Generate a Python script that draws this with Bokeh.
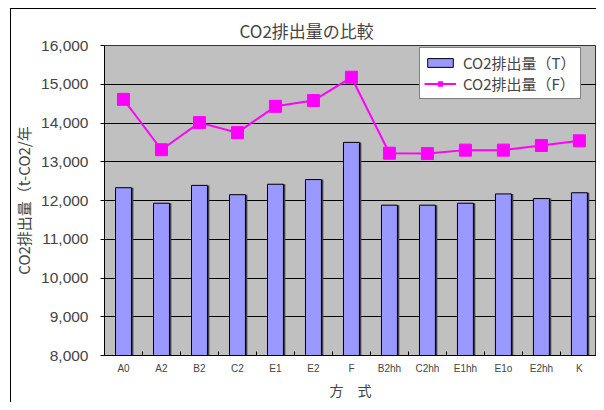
from bokeh.plotting import figure
from bokeh.models import (ColumnDataSource, Range1d, FixedTicker, NumeralTickFormatter,
                          Legend, LegendItem)
from bokeh.transform import dodge
from bokeh.embed import file_html
from bokeh.resources import INLINE

categories = ["A0", "A2", "B2", "C2", "E1", "E2", "F", "B2hh", "C2hh", "E1hh", "E1o", "E2hh", "K"]
co2_T = [12330, 11930, 12390, 12150, 12420, 12540, 13500, 11880, 11880, 11930, 12170, 12050, 12200]
co2_F = [14610, 13310, 14010, 13750, 14430, 14580, 15180, 13220, 13210, 13300, 13300, 13420, 13540]
y_ticks = [8000, 9000, 10000, 11000, 12000, 13000, 14000, 15000, 16000]

title_text = "CO2排出量の比較"
y_label = "CO2排出量（t-CO2/年"
x_label = "方　式"
name_T = "CO2排出量（T）"
name_F = "CO2排出量（F）"

xs = [i + 0.5 for i in range(len(categories))]
src = ColumnDataSource(dict(x=xs, cat=categories, t=co2_T, f=co2_F))

# outer chart frame (left and top edges only) drawn as CSS background
frame_css = ("linear-gradient(#000,#000) 10px 8px / 1px calc(100% - 8px) no-repeat, "
             "linear-gradient(#000,#000) 10px 8px / calc(100% - 10px) 1px no-repeat, #fff")

p = figure(width=596, height=402, output_backend="svg", toolbar_location=None,
           x_range=Range1d(0, 12.95), y_range=Range1d(8000, 16000),
           min_border_left=104, min_border_right=0, min_border_top=45, min_border_bottom=46,
           styles={"background": frame_css})

p.background_fill_color = "#C0C0C0"
p.border_fill_color = "white"
p.border_fill_alpha = 0
p.outline_line_color = "#333333"

# title
p.title.text = title_text
p.title.align = "left"
p.title.offset = 135
p.title.text_font = "Noto Sans CJK JP"
p.title.text_font_size = "17px"
p.title.text_font_style = "normal"
p.title.standoff = 6

# bars with shadow
p.vbar(x=dodge("x", 0.05, range=p.x_range), top="t", bottom=8000, width=0.42, source=src,
       fill_color="#404040", line_color=None)
bars = p.vbar(x="x", top="t", bottom=8000, width=0.42, source=src,
              fill_color="#9999FF", line_color="black", line_width=1)

line = p.line(x="x", y="f", source=src, line_color="#FF00FF", line_width=2)
marks = p.scatter(x="x", y="f", source=src, marker="square", size=12,
                  fill_color="#FF00FF", line_color="#FF00FF")

# axes
xa = p.xaxis[0]
xa.ticker = FixedTicker(ticks=xs, minor_ticks=list(range(len(categories) + 1)))
xa.major_label_overrides = {x: c for x, c in zip(xs, categories)}
xa.major_tick_in = 0
xa.major_tick_out = 0
xa.minor_tick_in = 4
xa.minor_tick_out = 0
xa.minor_tick_line_color = "black"
xa.axis_line_color = "black"
xa.major_label_text_font = "Liberation Sans"
xa.major_label_text_font_size = "10px"
xa.major_label_standoff = 7
xa.axis_label = x_label
xa.axis_label_text_font = "Noto Sans CJK JP"
xa.axis_label_text_font_size = "14px"
xa.axis_label_text_font_style = "normal"
xa.axis_label_standoff = 3

ya = p.yaxis[0]
ya.ticker = FixedTicker(ticks=y_ticks, minor_ticks=[])
ya.formatter = NumeralTickFormatter(format="0,0")
ya.major_tick_in = 0
ya.major_tick_out = 4
ya.major_tick_line_color = "black"
ya.axis_line_color = "black"
ya.major_label_text_font = "Liberation Sans"
ya.major_label_text_font_size = "15.5px"
ya.major_label_standoff = 12
ya.axis_label = y_label
ya.axis_label_text_font = "Noto Sans CJK JP"
ya.axis_label_text_font_size = "15px"
ya.axis_label_text_font_style = "normal"
ya.axis_label_standoff = 4

p.xgrid.grid_line_color = None
p.ygrid.ticker = FixedTicker(ticks=y_ticks)
p.ygrid.grid_line_color = "black"
p.ygrid.grid_line_alpha = 1.0

legend = Legend(items=[LegendItem(label=name_T, renderers=[bars]),
                       LegendItem(label=name_F, renderers=[line, marks])],
                location=(315, 256))
legend.label_text_font = "Noto Sans CJK JP"
legend.label_text_font_size = "15px"
legend.border_line_color = "black"
legend.border_line_width = 1
legend.background_fill_color = "white"
legend.background_fill_alpha = 1
legend.glyph_width = 32
legend.glyph_height = 11
legend.padding = 4
legend.spacing = 0
legend.margin = 0
legend.label_standoff = 7
legend.label_height = 19
p.add_layout(legend, "center")

open("out.html", "w").write(file_html(p, INLINE))
